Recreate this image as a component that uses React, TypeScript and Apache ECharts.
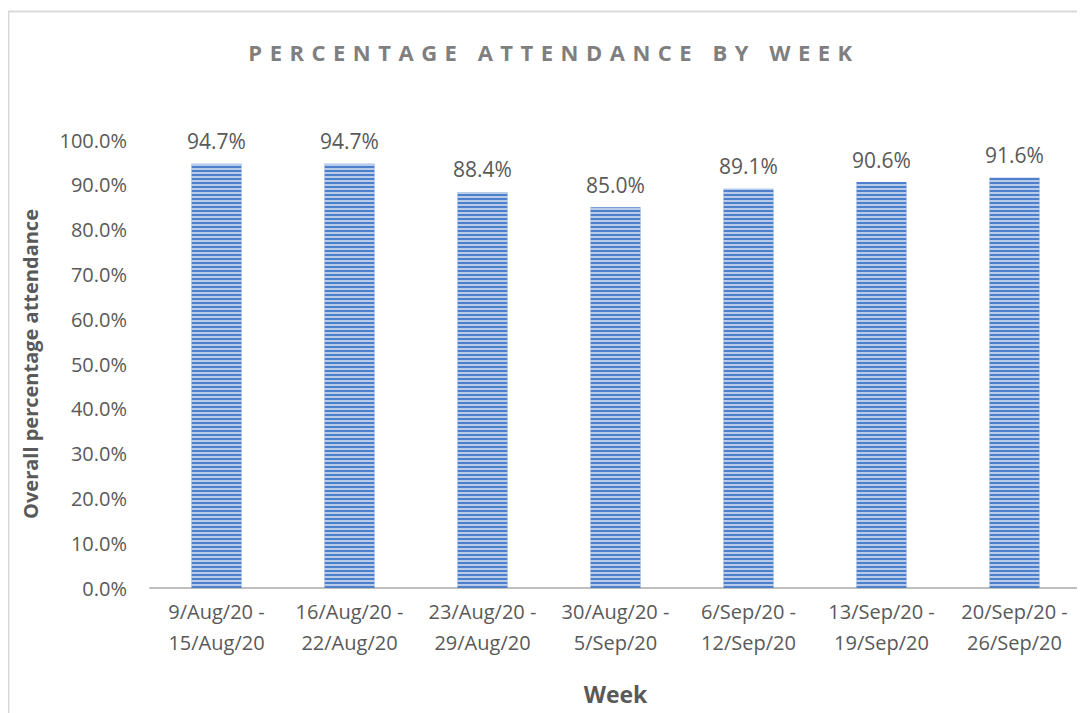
import React, { useEffect, useRef } from "react";
import * as echarts from "echarts";

const categories = [
  "9/Aug/20 -\n15/Aug/20",
  "16/Aug/20 -\n22/Aug/20",
  "23/Aug/20 -\n29/Aug/20",
  "30/Aug/20 -\n5/Sep/20",
  "6/Sep/20 -\n12/Sep/20",
  "13/Sep/20 -\n19/Sep/20",
  "20/Sep/20 -\n26/Sep/20",
];
const attendance = [94.7, 94.7, 88.4, 85.0, 89.1, 90.6, 91.6];
const TITLE = "PERCENTAGE ATTENDANCE BY WEEK";

const FONT = "Open Sans";
const GREY = "#595959";

export default function App() {
  const ref = useRef<HTMLDivElement>(null);
  useEffect(() => {
    const chart = echarts.init(ref.current!, null, { renderer: "svg" });
    chart.setOption({
      animation: false,
      backgroundColor: "#ffffff",
      title: {
        text: TITLE,
        left: 541,
        textAlign: "center",
        top: 28,
        textStyle: { fontFamily: FONT, fontSize: 22, fontWeight: "bold", color: "#7f7f7f" },
      },
      graphic: [
        {
          type: "rect",
          shape: { x: 0.5, y: 3.5, width: 1100, height: 800 },
          style: { fill: "none", stroke: "#d9d9d9", lineWidth: 2 },
          silent: true,
        },
      ],
      grid: { left: 142, right: 4, top: 132, bottom: 125, outerBoundsMode: "none", containLabel: false },
      xAxis: {
        type: "category",
        data: categories,
        name: "Week",
        nameLocation: "middle",
        nameGap: 94,
        nameTextStyle: { fontFamily: FONT, fontSize: 23, fontWeight: "bold", color: GREY, lineHeight: 24 },
        axisLine: { lineStyle: { color: "#bfbfbf", width: 2 } },
        axisTick: { show: false },
        axisLabel: { fontFamily: FONT, fontSize: 20, color: GREY, margin: 8, lineHeight: 31, interval: 0 },
      },
      yAxis: {
        type: "value",
        min: 0,
        max: 100,
        interval: 10,
        name: "Overall percentage attendance",
        nameLocation: "middle",
        nameGap: 110,
        nameTextStyle: { fontFamily: FONT, fontSize: 20, fontWeight: "bold", color: GREY },
        axisLine: { show: false },
        axisTick: { show: false },
        splitLine: { show: false },
        axisLabel: {
          fontFamily: FONT,
          fontSize: 20,
          color: GREY,
          margin: 23,
          formatter: (v: number) => v.toFixed(1) + "%",
        },
      },
      series: [
        {
          type: "bar",
          data: attendance,
          barWidth: 50,
          itemStyle: {
            color: "#4d7fcb",
            decal: {
              symbol: "rect",
              symbolSize: 1,
              dashArrayX: [1, 0],
              dashArrayY: [1.5, 2],
              rotation: 0,
              color: "rgba(255,255,255,0.6)",
            },
          },
          label: {
            show: true,
            position: "top",
            distance: 12,
            fontFamily: FONT,
            fontSize: 21,
            color: GREY,
            formatter: (p: any) => p.value.toFixed(1) + "%",
          },
        },
      ],
    });
    const texts = ref.current!.querySelectorAll("text");
    texts.forEach((t) => {
      if (t.textContent === TITLE) {
        (t as SVGTextElement).style.letterSpacing = "7.5px";
      }
    });
    return () => chart.dispose();
  }, []);
  return <div ref={ref} style={{ width: 1077, height: 705 }} />;
}
